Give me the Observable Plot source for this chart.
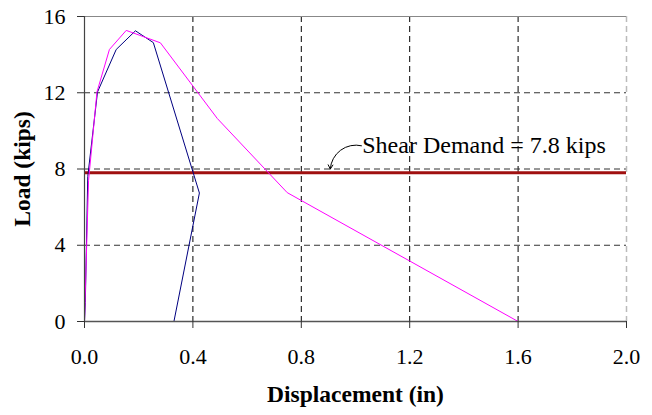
<!DOCTYPE html>
<html>
<head>
<meta charset="utf-8">
<script src="https://cdn.jsdelivr.net/npm/d3@7"></script>
<script src="https://cdn.jsdelivr.net/npm/@observablehq/plot@0.6"></script>
<style>
  html, body { margin: 0; padding: 0; background: white; }
</style>
</head>
<body>
<div id="chart"></div>
<script>
// Tick values
const xTicks = [0, 0.4, 0.8, 1.2, 1.6, 2.0];
const yTicks = [0, 4, 8, 12, 16];
const xGrid = [0.4, 0.8, 1.2, 1.6];
const yGrid = [4, 8, 12];

// Series 1 (navy)
const blueX = [0, 0.003, 0.012, 0.048, 0.117, 0.188, 0.254, 0.424, 0.33];
const blueY = [0, 1.0, 7.6, 12.04, 14.27, 15.25, 14.63, 6.74, 0];

// Series 2 (magenta)
const magX = [0, 0.005, 0.015, 0.046, 0.092, 0.154, 0.28, 0.49, 0.748, 1.6];
const magY = [0, 2.5, 7.4, 12.04, 14.27, 15.27, 14.62, 10.65, 6.76, 0];

// Shear demand
const demand = 7.8;
const demandLabel = "Shear Demand = 7.8 kips";
const labelPos = {x: 1.025, y: 8.85};
const arrowPos = {x1: 1.022, y1: 9.22, x2: 0.907, y2: 8.0};

const blue = blueX.map((x, i) => ({x, y: blueY[i]}));
const mag = magX.map((x, i) => ({x, y: magY[i]}));

const chart = Plot.plot({
  width: 652,
  height: 415,
  marginLeft: 84,
  marginRight: 26,
  marginTop: 16,
  marginBottom: 94,
  style: {fontFamily: "'Liberation Serif', 'Times New Roman', serif", fontSize: "22px", color: "black", background: "white"},
  x: {domain: [0, 2], label: null},
  y: {domain: [0, 16], label: null},
  marks: [
    Plot.ruleX(xGrid, {stroke: "black", strokeDasharray: "6,4", strokeWidth: 1}),
    Plot.ruleY(yGrid, {stroke: "#333", strokeDasharray: "6,4", strokeWidth: 1}),
    Plot.ruleX([2], {stroke: "#bbb", strokeDasharray: "6,4", strokeWidth: 1.5}),
    Plot.ruleY([16], {stroke: "#888", strokeWidth: 1.2}),
    Plot.ruleY([demand], {stroke: "#a01010", strokeWidth: 3}),
    Plot.line(blue, {x: "x", y: "y", stroke: "#000080", strokeWidth: 1}),
    Plot.line(mag, {x: "x", y: "y", stroke: "#ff00ff", strokeWidth: 1}),
    Plot.ruleY([0], {stroke: "#555", strokeWidth: 1.5}),
    Plot.ruleX([0], {stroke: "#444", strokeWidth: 1.2}),
    Plot.axisX({ticks: xTicks, tickFormat: d3.format(".1f"), tickSize: 7, tickPadding: 20, fontSize: 22, label: null, stroke: "#333"}),
    Plot.axisY({ticks: yTicks, tickSize: 7, tickPadding: 12, fontSize: 22, label: null, stroke: "#333"}),
    Plot.text([labelPos], {x: "x", y: "y", text: () => demandLabel, textAnchor: "start", lineAnchor: "bottom", fontSize: 24}),
    Plot.arrow([arrowPos], {x1: "x1", y1: "y1", x2: "x2", y2: "y2", bend: -50, stroke: "black", strokeWidth: 1, headLength: 7}),
    Plot.text(["Displacement (in)"], {frameAnchor: "bottom", dy: 73, textAnchor: "middle", lineAnchor: "middle", fontWeight: "bold", fontSize: 23.5}),
    Plot.text(["Load (kips)"], {frameAnchor: "left", dx: -62, rotate: -90, textAnchor: "middle", lineAnchor: "middle", fontWeight: "bold", fontSize: 23.5})
  ]
});
document.getElementById("chart").appendChild(chart);
</script>
</body>
</html>
